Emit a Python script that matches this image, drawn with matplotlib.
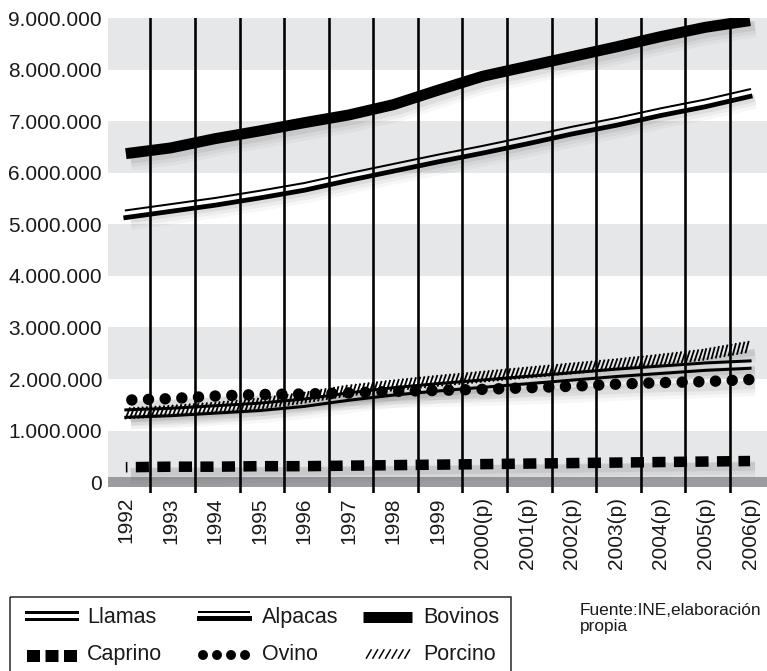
import matplotlib
matplotlib.use("Agg")  # off-screen
import matplotlib.pyplot as plt
import matplotlib.patheffects as pe
import matplotlib.transforms as mtransforms
from matplotlib.patches import Rectangle
import numpy as np

plt.rcParams["font.family"] = ["Liberation Sans", "DejaVu Sans"]

# -----------------------------------------------------------------------------#
# Datos: cabezas de ganado (millones)                                          #
# -----------------------------------------------------------------------------#
years = ["1992", "1993", "1994", "1995", "1996", "1997", "1998", "1999",
         "2000(p)", "2001(p)", "2002(p)", "2003(p)", "2004(p)", "2005(p)",
         "2006(p)"]
bovinos = [6.37, 6.48, 6.66, 6.81, 6.97, 7.12, 7.32, 7.60, 7.87, 8.06,
           8.25, 8.44, 8.64, 8.82, 8.95]
alpacas = [5.20, 5.32, 5.44, 5.58, 5.73, 5.92, 6.10, 6.28, 6.45, 6.63,
           6.82, 6.99, 7.18, 7.35, 7.55]
llamas = [1.33, 1.36, 1.41, 1.46, 1.54, 1.66, 1.76, 1.84, 1.91, 1.98,
          2.05, 2.12, 2.18, 2.24, 2.28]
porcino = [1.33, 1.38, 1.44, 1.52, 1.63, 1.77, 1.87, 1.96, 2.04, 2.12,
           2.20, 2.28, 2.37, 2.47, 2.62]
ovino = [1.59, 1.62, 1.67, 1.70, 1.71, 1.73, 1.76, 1.78, 1.80, 1.83,
         1.86, 1.90, 1.93, 1.95, 1.99]
caprino = [0.29, 0.30, 0.30, 0.31, 0.31, 0.32, 0.33, 0.34, 0.35, 0.36,
           0.37, 0.38, 0.39, 0.40, 0.41]
y_ticks = list(range(10))

W, H, DPI = 767, 671, 100
BAND = "#e6e7e9"
BAR = "#9c9ca0"
INK = "#1a1a1a"


def px(v):
    """Pixels -> points."""
    return v * 72.0 / DPI


fig = plt.figure(figsize=(W / DPI, H / DPI), dpi=DPI)
ax = fig.add_axes([108 / W, 1 - 493 / H, (W - 108) / W, (493 - 18) / H])
x = np.arange(len(years))


def shadow(yvals, width):
    """Soft drop shadow, mostly below and right of the series."""
    for dy, extra, a in ((-5, 0, 0.06), (-7, 3, 0.045), (-9, 6, 0.03)):
        tr = mtransforms.offset_copy(ax.transData, fig=fig, x=5, y=dy, units="dots")
        ax.plot(x, yvals, color="k", alpha=a, lw=px(width + extra),
                transform=tr, solid_capstyle="butt", zorder=2)


def double_stroke(top_w, bottom_w, gap):
    return [pe.Stroke(offset=(0, px(gap)), linewidth=px(top_w), foreground="k"),
            pe.Stroke(offset=(0, -px(gap)), linewidth=px(bottom_w), foreground="k")]


def hatch_stroke(spacing, length, angle=65, width=1.8):
    dx = -0.5 * length * np.cos(np.radians(angle))
    dy = -0.5 * length * np.sin(np.radians(angle))
    return [pe.TickedStroke(offset=(px(dx), px(dy)), spacing=px(spacing),
                            angle=angle, length=length / spacing,
                            linewidth=px(width), foreground="k")]


# fondo a bandas
for lo in range(0, 9, 2):
    ax.axhspan(lo, lo + 1, color=BAND, lw=0, zorder=0)
ax.axhspan(-0.1, 0.1, color=BAR, lw=0, zorder=1)

# series
for vals, w in ((caprino, 9), (porcino, 7), (ovino, 9), (llamas, 8),
                (alpacas, 8), (bovinos, 10)):
    shadow(vals, w)

ax.plot(x, caprino, color="k", lw=px(10.5), dash_capstyle="butt",
        linestyle=(1.1, (1.25, 0.8)), zorder=3)
ax.plot(x, porcino, color="k", lw=1, zorder=3,
        path_effects=hatch_stroke(4.3, 11))
ax.plot(x, ovino, color="k", lw=px(11.5), dash_capstyle="round",
        linestyle=(0.93, (0.001, 1.45)), zorder=4)
ax.plot(x, llamas, color="k", lw=1, zorder=4,
        path_effects=double_stroke(3, 3, 3.7))
ax.plot(x, alpacas, color="k", lw=1, zorder=4,
        path_effects=double_stroke(2, 4.8, 3.6))
ax.plot(x, bovinos, color="k", lw=px(11), solid_capstyle="butt", zorder=4)

# separadores entre años
for xv in x[:-1] + 0.55:
    ax.axvline(xv, color="k", lw=px(2.6), zorder=6)

ax.set_xlim(-0.40, 14.38)
ax.set_ylim(-0.21, 9.0)
ax.set_xticks(x, years, rotation=90, fontsize=15, color=INK)
ax.set_yticks(y_ticks, [f"{v * 1_000_000:,.0f}".replace(",", ".") for v in y_ticks],
              fontsize=15, color=INK)
ax.tick_params(axis="x", length=0, pad=px(4))
ax.tick_params(axis="y", length=0, pad=px(6))
for s in ax.spines.values():
    s.set_visible(False)

# leyenda (capa en pixeles)
lax = fig.add_axes([0, 0, 1, 1], zorder=10)
lax.set_xlim(0, W)
lax.set_ylim(H, 0)
lax.axis("off")
lax.add_patch(Rectangle((10, 597), 501, 90, fill=False, ec="#222222",
                        lw=px(1.5), clip_on=False))

lax.plot([26, 77], [615.5, 615.5], color="k", lw=1,
         path_effects=double_stroke(3, 3, 3.8))
lax.plot([199, 249], [615, 615], color="k", lw=1,
         path_effects=double_stroke(2, 5, 3.0))
lax.plot([363, 412], [616.5, 616.5], color="k", lw=px(11), solid_capstyle="butt")
lax.plot([27, 77], [656, 656], color="k", lw=px(12), dash_capstyle="butt",
         linestyle=(0, (13 / 12, 5.5 / 12)))
lax.plot([203, 245.5], [655, 655], color="k", lw=px(10), dash_capstyle="round",
         linestyle=(0, (0.001, 1.4)))
lax.plot([366, 410], [654, 654], color="k", lw=1,
         path_effects=hatch_stroke(5.6, 9.5, angle=60, width=1.5))

for label, lx, ly in (("Llamas", 87, 623), ("Alpacas", 262, 623),
                      ("Bovinos", 423, 623), ("Caprino", 87, 660),
                      ("Ovino", 262, 660), ("Porcino", 423, 660)):
    lax.text(lx, ly, label, fontsize=15.5, va="baseline", color=INK)

lax.text(580, 615, "Fuente:INE,elaboración", fontsize=12.4, va="baseline", color=INK)
lax.text(580, 631, "propia", fontsize=12.4, va="baseline", color=INK)

fig.savefig("out.png", dpi=DPI, facecolor="white")
